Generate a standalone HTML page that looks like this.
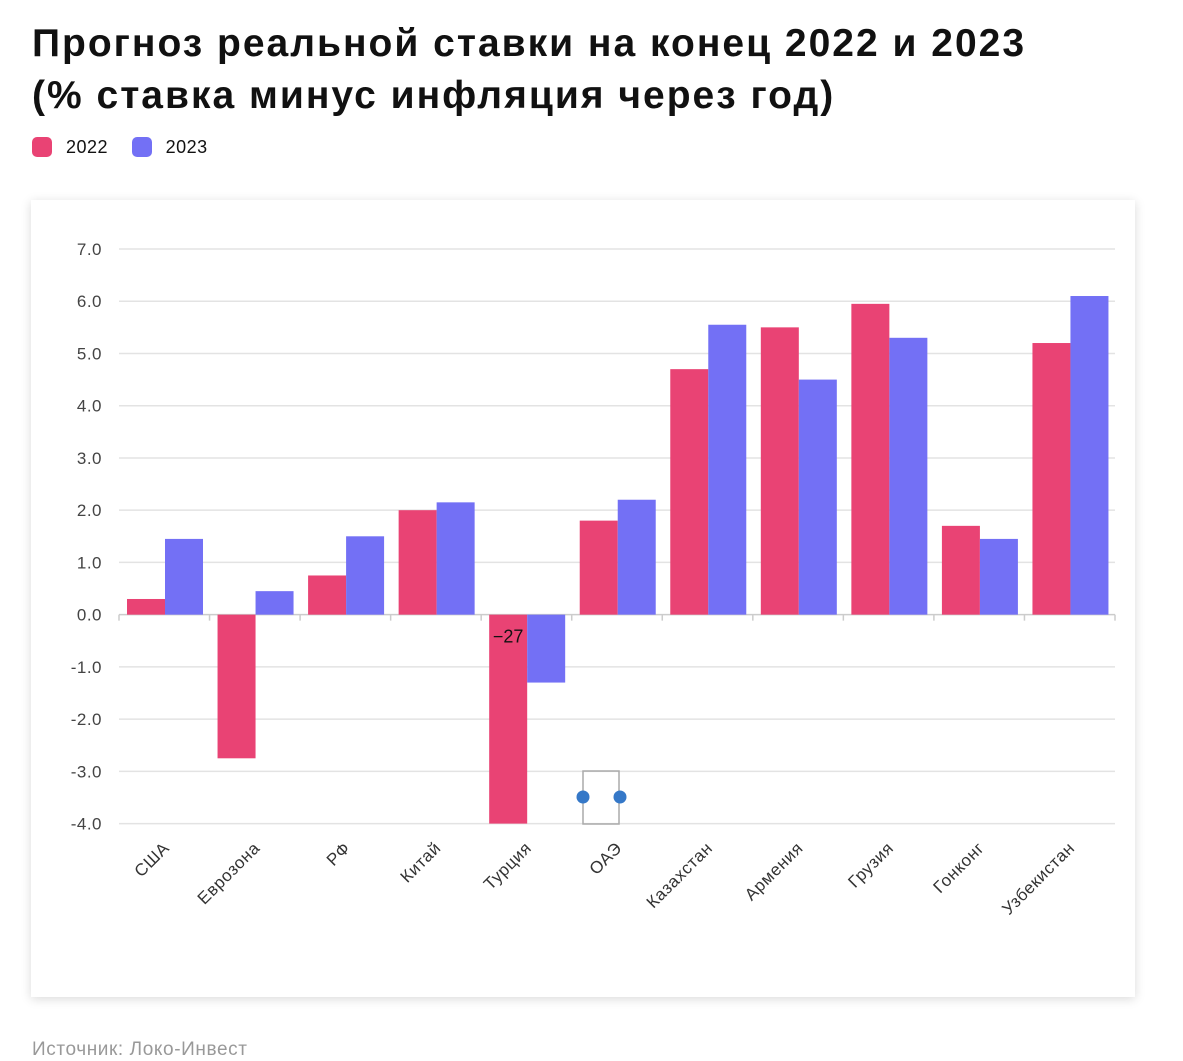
<!DOCTYPE html>
<html><head><meta charset="utf-8">
<style>
body{margin:0;width:1183px;height:1058px;background:#fff;overflow:hidden;font-family:"Liberation Sans","Noto Sans CJK SC",sans-serif;position:relative}
h1{position:absolute;left:32px;top:18px;margin:0;font-size:39px;line-height:52px;font-weight:bold;color:#111;letter-spacing:2px;white-space:nowrap}
.legend{position:absolute;left:32px;top:137px;font-size:18px;color:#111;letter-spacing:0.5px}
.legend span.sw{display:inline-block;width:20px;height:20px;border-radius:5px;vertical-align:-4px;margin-right:14px}
.card{position:absolute;left:31px;top:200px;width:1104px;height:797px;background:#fff;box-shadow:0 2px 10px rgba(0,0,0,0.15)}
.src{position:absolute;left:32px;top:1039px;font-size:19px;color:#999;letter-spacing:0.6px}
</style></head><body>
<h1>Прогноз реальной ставки на конец 2022 и 2023<br>(% ставка минус инфляция через год)</h1>
<div class="legend">
<span><span class="sw" style="background:#e94374"></span>2022</span>
<span style="margin-left:18px"><span class="sw" style="background:#7370f5"></span>2023</span>
</div>
<div class="card"></div>
<svg id="chart" width="1183" height="1058" style="position:absolute;left:0;top:0"></svg>
<div class="src">Источник: Локо-Инвест</div>
<script>
const categories=["США","Еврозона","РФ","Китай","Турция","ОАЭ","Казахстан","Армения","Грузия","Гонконг","Узбекистан"];
const values2022=[0.3,-2.75,0.75,2.0,-27,1.8,4.7,5.5,5.95,1.7,5.2];
const values2023=[1.45,0.45,1.5,2.15,-1.3,2.2,5.55,4.5,5.3,1.45,6.1];
const yTicks=[7,6,5,4,3,2,1,0,-1,-2,-3,-4];
const yMin=-4,yMax=7;
const svg=document.getElementById('chart');
const NS='http://www.w3.org/2000/svg';
const x0=119,x1=1115,yTop=249,yBot=823.6;
const band=(x1-x0)/categories.length;
function y(v){v=Math.max(yMin,Math.min(yMax,v));return yBot-(v-yMin)/(yMax-yMin)*(yBot-yTop);}
function xc(i){return x0+band*i;}
function mk(tag,attrs){const e=document.createElementNS(NS,tag);for(const k in attrs)e.setAttribute(k,attrs[k]);svg.appendChild(e);return e;}
yTicks.forEach(t=>{
 const g=mk('line',{x1:x0,x2:x1,y1:y(t),y2:y(t),stroke:t===0?'#ccc':'#e3e3e3','stroke-width':1.5});
 
 
 const tx=mk('text',{x:102,y:y(t)+6,'text-anchor':'end','font-size':17,fill:'#444','letter-spacing':0.5});
 tx.textContent=t.toFixed(1);
 
 
});
for(let i=0;i<=categories.length;i++){
 const tk=mk('line',{x1:xc(i),x2:xc(i),y1:y(0),y2:y(0)+6,stroke:'#ccc','stroke-width':1.5});
 
 
}
const bw=38,off=8;
categories.forEach((c,i)=>{
 [[values2022,'#e94374',0],[values2023,'#7370f5',1]].forEach(([arr,col,k])=>{
  const v=arr[i];const ya=y(v),yb=y(0);
  const r=mk('rect',{x:xc(i)+off+k*bw,y:Math.min(ya,yb),width:bw,height:Math.abs(ya-yb),fill:col});
  
  
  if(v<yMin){
   const l=mk('text',{x:xc(i)+off+bw/2,y:y(0)+28,'text-anchor':'middle','font-size':18,fill:'#111'});
   l.textContent=String(v).replace('-','−');
   
   
  }
 });
 const cx=xc(i)+band/2+6,cy=849;
 const lb=mk('text',{x:cx,y:cy,'text-anchor':'end','font-size':17,fill:'#333','letter-spacing':0.6,transform:`rotate(-45 ${cx} ${cy})`});
 lb.textContent=c;
 
 
});
const bx=mk('rect',{x:583,y:771,width:36,height:53,fill:'none',stroke:'#aaa','stroke-width':1.5});


[583,620].forEach(px=>{
 const d=mk('circle',{cx:px,cy:797,r:6.5,fill:'#3578c8'});
 
 
});
</script>
</body></html>
